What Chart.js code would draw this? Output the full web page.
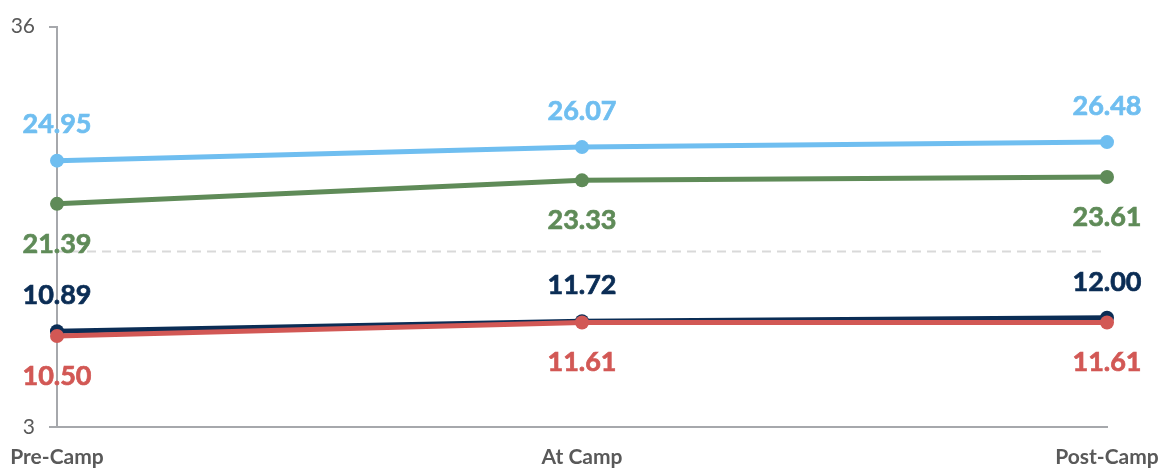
<!DOCTYPE html>
<html>
<head>
<meta charset="utf-8">
<script src="https://cdn.jsdelivr.net/npm/chart.js@4/dist/chart.umd.min.js"></script>
<style>
  html, body { margin: 0; padding: 0; background: #fff; }
  #wrap { width: 1167px; height: 469px; position: relative; }
</style>
</head>
<body>
<div id="wrap"><canvas id="c"></canvas></div>
<script>
// ==================== DATA ====================
const categories = ['Pre-Camp', 'At Camp', 'Post-Camp'];
const lightBlue = [24.95, 26.07, 26.48];
const green     = [21.39, 23.33, 23.61];
const navy      = [10.89, 11.72, 12.00];
const red       = [10.50, 11.61, 11.61];
const yTicks    = [3, 36];
const refLine   = 17.5;

const FONT = 'Lato, "Open Sans", sans-serif';

// label position per series: above / below the point
function ds(data, col, pos, order) {
  return {
    data, borderColor: col, backgroundColor: col,
    borderWidth: 5, pointRadius: 7, pointHoverRadius: 7,
    pointBorderWidth: 0, tension: 0, order, labelPos: pos
  };
}

const valueLabels = {
  id: 'valueLabels',
  afterDatasetsDraw(chart) {
    const ctx = chart.ctx;
    ctx.save();
    ctx.font = 'bold 27px ' + FONT;
    ctx.textAlign = 'center';
    ctx.textBaseline = 'middle';
    ctx.lineWidth = 0.7;
    chart.data.datasets.forEach((d, i) => {
      const meta = chart.getDatasetMeta(i);
      meta.data.forEach((pt, j) => {
        const off = d.labelPos === 'above' ? -36 : 40;
        const t = d.data[j].toFixed(2);
        ctx.fillStyle = d.borderColor;
        ctx.strokeStyle = d.borderColor;
        ctx.fillText(t, pt.x, pt.y + off);
        ctx.strokeText(t, pt.x, pt.y + off);
      });
    });
    ctx.restore();
  }
};

const dashLine = {
  id: 'dashLine',
  beforeDatasetsDraw(chart) {
    const { ctx, chartArea: a, scales: { y } } = chart;
    const py = Math.round(y.getPixelForValue(refLine)) + 0.5;
    ctx.save();
    ctx.strokeStyle = '#D9D9D9';
    ctx.lineWidth = 2;
    ctx.setLineDash([9, 6]);
    ctx.beginPath();
    ctx.moveTo(a.left, py);
    ctx.lineTo(a.right, py);
    ctx.stroke();
    ctx.restore();
  }
};

new Chart(document.getElementById('c'), {
  type: 'line',
  data: {
    labels: categories,
    datasets: [
      ds(lightBlue, '#6FBEF0', 'above', 4),
      ds(green,     '#5F8B58', 'below', 3),
      ds(navy,      '#0B2D55', 'above', 2),
      ds(red,       '#D25855', 'below', 1)
    ]
  },
  options: {
    responsive: true, maintainAspectRatio: false, animation: false,
    layout: { padding: { top: 25, right: 60, left: 0, bottom: 0 } },
    plugins: { legend: { display: false }, tooltip: { enabled: false } },
    scales: {
      x: {
        offset: false,
        afterFit: s => { s.height = 42; s.paddingLeft = 0; s.paddingRight = 0; },
        grid: { display: false, drawTicks: false },
        border: { color: '#A6A8AC', width: 2 },
        ticks: { color: '#595959', font: { family: FONT, size: 21, weight: 'bold' }, padding: 18, maxRotation: 0 }
      },
      y: {
        min: 3, max: 36,
        afterBuildTicks: s => { s.ticks = yTicks.map(v => ({ value: v })); },
        afterFit: s => { s.width = 57; },
        grid: { drawOnChartArea: false, tickLength: 8, color: '#A6A8AC', lineWidth: 2 },
        border: { color: '#A6A8AC', width: 2 },
        ticks: { color: '#595959', font: { family: FONT, size: 21 }, padding: 14 }
      }
    }
  },
  plugins: [dashLine, valueLabels]
});
</script>
</body>
</html>
